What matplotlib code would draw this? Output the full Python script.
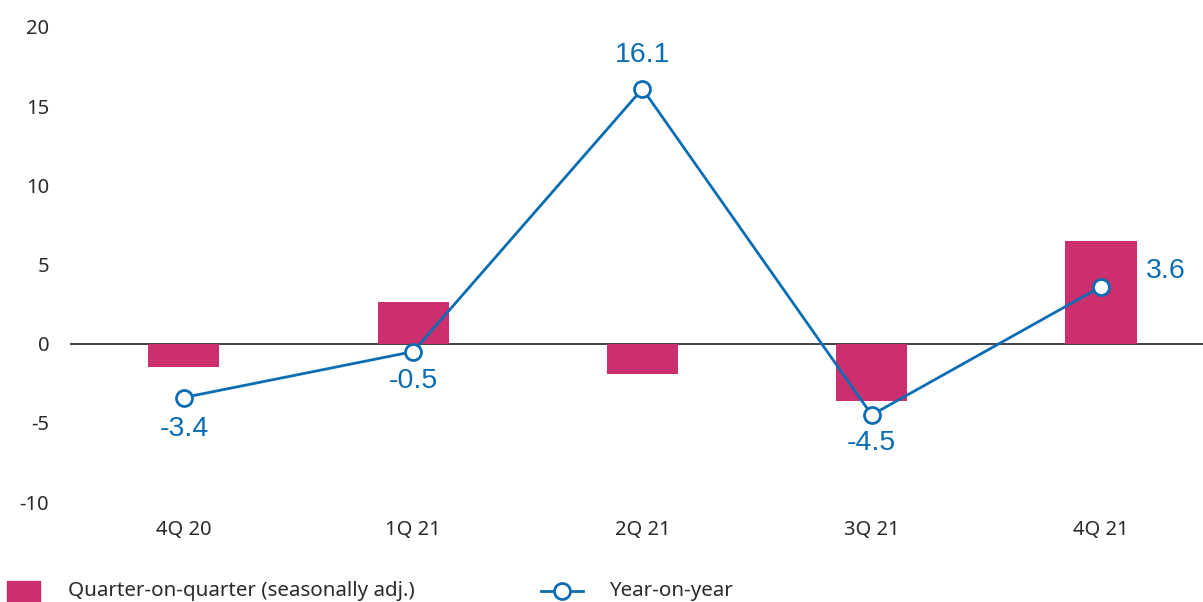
import matplotlib
matplotlib.use('Agg')

import matplotlib.pyplot as plt
from matplotlib.lines import Line2D
from matplotlib.patches import Rectangle

plt.rcParams['axes.unicode_minus'] = False

quarters = ['4Q 20', '1Q 21', '2Q 21', '3Q 21', '4Q 21']
qoq = [-1.5, 2.65, -1.9, -3.65, 6.5]
yoy = [-3.4, -0.5, 16.1, -4.5, 3.6]
# label offsets in points (dx, dy)
label_offsets = [(0, -23), (0, -21), (0, 24), (0, -20), (47, 11)]

PINK = '#cc2f6d'
BLUE = '#0a6db3'
TICK_FONT = 'Noto Sans'
LABEL_FONT = 'Liberation Sans'

fig = plt.figure(figsize=(12.03, 6.02), dpi=100)
ax = fig.add_axes([70 / 1203, 1 - 502 / 602, 1133 / 1203, (502 - 27) / 602])

x = list(range(len(quarters)))
ax.bar(x, qoq, width=0.31, color=PINK, zorder=2)
ax.axhline(0, color='#222222', lw=1.2, zorder=1)
ax.plot(x, yoy, color=BLUE, lw=2.0, marker='o', markersize=11.5,
        markerfacecolor='white', markeredgecolor=BLUE, markeredgewidth=2.0, zorder=3)

for xi, v, (dx, dy) in zip(x, yoy, label_offsets):
    ax.annotate(f'{v:.1f}', (xi, v), xytext=(dx, dy), textcoords='offset points',
                ha='center', va='center', fontsize=20.5, color=BLUE, family=LABEL_FONT)

ax.set_xlim(-0.497, 4.445)
ax.set_ylim(-10, 20)
ax.set_yticks([-10, -5, 0, 5, 10, 15, 20])
ax.set_xticks(x)
ax.set_xticklabels(quarters)
ax.tick_params(axis='both', length=0, labelsize=14.5, labelcolor='#2a2a2a')
ax.tick_params(axis='y', pad=15)
ax.tick_params(axis='x', pad=13)
for lbl in ax.get_xticklabels() + ax.get_yticklabels():
    lbl.set_family(TICK_FONT)
for s in ax.spines.values():
    s.set_visible(False)

# legend drawn along the bottom edge
fig.patches.append(Rectangle((7 / 1203, 0), 33 / 1203, 21 / 602, transform=fig.transFigure,
                             color=PINK, clip_on=False))
fig.text(68 / 1203, 1 - 591 / 602, 'Quarter-on-quarter (seasonally adj.)', fontsize=14.8,
         family=TICK_FONT, color='#2a2a2a', va='center', ha='left')
fig.lines.append(Line2D([541 / 1203, 583 / 1203], [1 - 591 / 602] * 2, transform=fig.transFigure,
                        color=BLUE, lw=2.0))
fig.lines.append(Line2D([562 / 1203], [1 - 591 / 602], transform=fig.transFigure,
                        color=BLUE, marker='o', markersize=11.5, markerfacecolor='white',
                        markeredgewidth=2.0, lw=0))
fig.text(609 / 1203, 1 - 591 / 602, 'Year-on-year', fontsize=14.8, family=TICK_FONT,
         color='#2a2a2a', va='center', ha='left')

fig.savefig('out.png', dpi=100)
